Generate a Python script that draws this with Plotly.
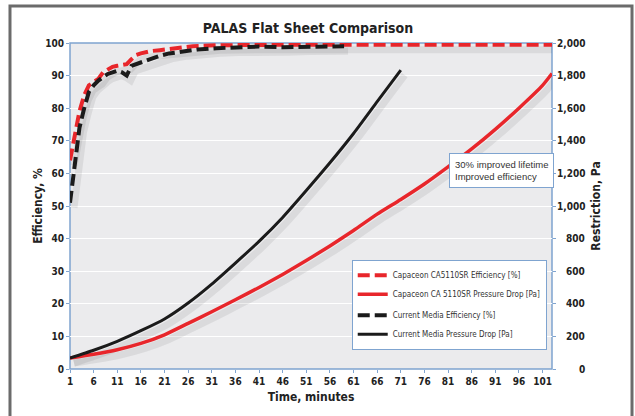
import plotly.graph_objects as go

# ---------------- data ----------------
eff_cap_t = [1, 2, 3, 4, 5, 6, 7, 8, 9, 10, 11, 12, 13, 14, 15, 16, 17, 18, 20, 23, 27, 32, 40, 50, 60, 70, 80, 90, 100, 103]
eff_cap = [64, 72, 79, 84, 87, 88, 89, 91, 92, 92.7, 93, 93.2, 93.5, 95, 96.3, 96.8, 97.2, 97.5, 97.8, 98.3, 99, 99.3, 99.5, 99.5, 99.5, 99.5, 99.5, 99.5, 99.5, 99.5]

eff_cur_t = [1, 2, 3, 4, 5, 6, 7, 8, 9, 10, 11, 12, 13, 14, 15, 16, 17, 18, 19, 20, 22, 25, 28, 32, 36, 41, 46, 51, 56, 59]
eff_cur = [51, 62, 74, 80, 85, 87, 88.5, 89.5, 90.5, 91, 91.5, 91, 90, 93, 93.5, 94, 94.5, 95, 95.7, 96.1, 96.8, 97.5, 98, 98.4, 98.6, 98.9, 98.7, 98.9, 99, 99]

press_cap_t = [1, 6, 11, 16, 21, 26, 31, 36, 41, 46, 51, 56, 61, 66, 71, 76, 81, 86, 91, 96, 101, 103]
press_cap = [67, 90, 118, 157, 210, 280, 351, 425, 500, 580, 665, 755, 850, 950, 1040, 1135, 1240, 1350, 1470, 1600, 1740, 1813]

press_cur_t = [1, 6, 11, 16, 21, 26, 31, 36, 41, 46, 51, 56, 61, 66, 71]
press_cur = [67, 115, 170, 235, 307, 405, 521, 650, 783, 930, 1095, 1265, 1445, 1640, 1834]

x_ticks = list(range(1, 102, 5))
y2_ticks = list(range(0, 2001, 200))
names = ["Capaceon CA5110SR Efficiency [%]", "Capaceon CA 5110SR Pressure Drop [Pa]",
         "Current Media Efficiency [%]", "Current Media Pressure Drop [Pa]"]

# ---------------- style ----------------
NARROW = "Liberation Sans Narrow, DejaVu Sans Condensed, Arial Narrow, sans-serif"
RED = "#e8262b"
BLACK = "#1b1b1b"
BLUE = "#7fa4d0"
TXT = "#222222"
SHADOW = "rgba(0,0,0,0.07)"

X_RANGE = [1, 103]
Y_RANGE = [0, 100]
Y2_RANGE = [0, 2000]
# shadow offset (px): plot 482 x 326
dx, dy = 4, 5
sx = dx * (X_RANGE[1] - X_RANGE[0]) / 482
sy = dy * 100 / 326
sy2 = dy * 2000 / 326

fig = go.Figure()

# shadows (base subplot, drawn beneath)
fig.add_trace(go.Scatter(x=eff_cap_t, y=eff_cap, xaxis="x", yaxis="y", mode="lines",
                         line=dict(color=SHADOW, width=7), showlegend=False, hoverinfo="skip"))
fig.add_trace(go.Scatter(x=eff_cur_t, y=eff_cur, xaxis="x", yaxis="y", mode="lines",
                         line=dict(color=SHADOW, width=7), showlegend=False, hoverinfo="skip"))
fig.add_trace(go.Scatter(x=press_cap_t, y=press_cap, xaxis="x", yaxis="y2", mode="lines",
                         line=dict(color=SHADOW, width=7, shape="spline", smoothing=0.6), showlegend=False, hoverinfo="skip"))
fig.add_trace(go.Scatter(x=press_cur_t, y=press_cur, xaxis="x", yaxis="y2", mode="lines",
                         line=dict(color=SHADOW, width=7, shape="spline", smoothing=0.6), showlegend=False, hoverinfo="skip"))

# real traces
fig.add_trace(go.Scatter(x=eff_cap_t, y=eff_cap, xaxis="x2", yaxis="y3", mode="lines", name=names[0],
                         legendgroup="a", line=dict(color=RED, width=4, dash="12px,5px")))
fig.add_trace(go.Scatter(x=press_cap_t, y=press_cap, xaxis="x2", yaxis="y4", mode="lines", name=names[1],
                         legendgroup="a", line=dict(color=RED, width=3.5, shape="spline", smoothing=0.6)))
fig.add_trace(go.Scatter(x=eff_cur_t, y=eff_cur, xaxis="x2", yaxis="y3", mode="lines", name=names[2],
                         legendgroup="b", line=dict(color=BLACK, width=4, dash="12px,5px")))
fig.add_trace(go.Scatter(x=press_cur_t, y=press_cur, xaxis="x2", yaxis="y4", mode="lines", name=names[3],
                         legendgroup="b", line=dict(color=BLACK, width=3, shape="spline", smoothing=0.6)))

hidden = dict(visible=False, fixedrange=True, automargin=False)
tickfont = dict(family=NARROW, size=10, color=TXT, weight="bold")
titlefont = dict(family=NARROW, size=12, color=TXT, weight="bold")

# right-axis tick labels (right aligned, like the original)
right_labels = [dict(xref="paper", yref="y4", x=1.0, y=v, xshift=35, xanchor="right", yanchor="middle",
                     text=f"{v:,}", showarrow=False, font=tickfont) for v in y2_ticks]

fig.update_layout(
    width=635, height=416,
    margin=dict(l=70, r=83, t=43, b=47, autoexpand=False),
    paper_bgcolor="white",
    plot_bgcolor="#ebebed",
    showlegend=True,
    title=dict(text="PALAS Flat Sheet Comparison", x=0.485, xanchor="center",
               y=0.933, yanchor="middle",
               font=dict(family=NARROW, size=14, color=TXT, weight="bold")),
    xaxis=dict(range=[X_RANGE[0] - sx, X_RANGE[1] - sx], **hidden),
    yaxis=dict(range=[Y_RANGE[0] + sy, Y_RANGE[1] + sy], **hidden),
    yaxis2=dict(range=[Y2_RANGE[0] + sy2, Y2_RANGE[1] + sy2], overlaying="y", **hidden),
    xaxis2=dict(range=X_RANGE, overlaying="x", side="bottom", anchor="y3", automargin=False,
                tickmode="array", tickvals=x_ticks, ticktext=[str(v) for v in x_ticks],
                ticks="outside", ticklen=3, tickcolor=BLUE, showgrid=False, zeroline=False,
                showline=False, tickfont=tickfont,
                title=dict(text="Time, minutes", font=titlefont, standoff=6)),
    yaxis3=dict(range=Y_RANGE, overlaying="y", side="left", anchor="x2", dtick=10, automargin=False,
                ticks="outside", ticklen=3, tickcolor=BLUE, showgrid=True, gridcolor="white",
                gridwidth=1, zeroline=False, showline=False, tickfont=tickfont,
                title=dict(text="Efficiency, %", font=titlefont, standoff=0)),
    yaxis4=dict(range=Y2_RANGE, overlaying="y", side="right", anchor="x2", automargin=False,
                tickmode="array", tickvals=y2_ticks, showticklabels=False,
                ticks="outside", ticklen=3, tickcolor=BLUE, showgrid=False,
                zeroline=False, showline=False,
                title=dict(text="Restriction, Pa", font=titlefont, standoff=36)),
    legend=dict(x=0.5845, y=0.335, xanchor="left", yanchor="top",
                bgcolor="white", bordercolor=BLUE, borderwidth=1,
                font=dict(family=NARROW, size=8, color="#333333"),
                tracegroupgap=2, traceorder="grouped", itemwidth=30),
    annotations=right_labels + [
        dict(xref="paper", yref="paper", x=0.786, y=0.6617, xanchor="left", yanchor="top",
             text="30% improved lifetime<br>Improved efficiency", showarrow=False, align="left",
             bgcolor="white", bordercolor=BLUE, borderwidth=1, borderpad=5,
             font=dict(family="Liberation Sans, Arial, sans-serif", size=9.5, color="#333333"))],
    shapes=[
        # plot area border
        dict(type="rect", xref="paper", yref="paper", x0=0, x1=1, y0=0, y1=1,
             line=dict(color=BLUE, width=1.5), layer="between"),
        # outer frame
        dict(type="rect", xref="paper", yref="paper", x0=-0.1245, x1=1.166, y0=-0.3, y1=1.1135,
             line=dict(color="#6b6b6b", width=3), layer="above"),
    ],
)

fig.write_html("out.html", config={"displayModeBar": False},
               post_script="document.body.style.margin='0';")
